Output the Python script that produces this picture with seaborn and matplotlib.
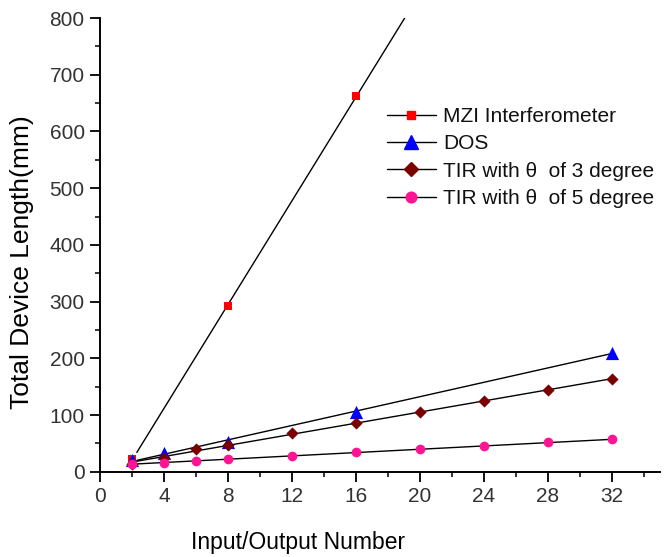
import numpy as np
import pandas as pd
import matplotlib
matplotlib.use("Agg")
import matplotlib.pyplot as plt
from matplotlib.lines import Line2D
from matplotlib.ticker import MultipleLocator
import seaborn as sns

# valores
mzi_x = [2, 8, 16]
mzi_y = [22, 292, 662]

dos_x = [2, 4, 8, 16, 32]
dos_y = [20, 33, 53, 105, 210]

tir3_x = [2, 4, 6, 8, 12, 16, 20, 24, 28, 32]
tir3_y = [14, 25, 40, 47, 68, 86, 106, 125, 144, 163]

tir5_x = [2, 4, 6, 8, 12, 16, 20, 24, 28, 32]
tir5_y = [14, 16, 19, 22, 28, 34, 40, 45, 52, 57]

# nome, x, y, marcador, cor, tamanho (pt), faixa da reta
series = [
    ("MZI Interferometer", mzi_x, mzi_y, "s", "#FF0000", 5.8, (2, 20)),
    ("DOS", dos_x, dos_y, "^", "#0000FF", 9.5, (2, 32)),
    ("TIR with θ  of 3 degree", tir3_x, tir3_y, "D", "#7A0000", 6.2, (2, 32)),
    ("TIR with θ  of 5 degree", tir5_x, tir5_y, "o", "#FF1493", 7.0, (2, 32)),
]

sns.set_theme(style="ticks")
plt.rcParams["font.family"] = ["Liberation Sans", "DejaVu Sans"]

fig = plt.figure(figsize=(6.69, 5.57), dpi=100)
ax = fig.add_axes([0.1495, 0.153, 0.837, 0.8146])

handles = []
for nome, xs, ys, marca, cor, tam, faixa in series:
    df = pd.DataFrame({"x": xs, "y": ys})
    # reta ajustada (regressão linear)
    a, b = np.polyfit(df["x"], df["y"], 1)
    xf = np.linspace(faixa[0] + 0.3, faixa[1], 50)
    sns.lineplot(x=xf, y=a * xf + b, ax=ax, color="black", linewidth=1, zorder=2)
    sns.scatterplot(data=df, x="x", y="y", ax=ax, marker=marca, color=cor,
                    s=tam ** 2, edgecolor=cor, linewidth=0, zorder=3)
    handles.append(Line2D([], [], color="black", linewidth=1, marker=marca,
                          markerfacecolor=cor, markeredgecolor=cor, markersize=tam * 1.1))

ax.set_xlim(0, 35)
ax.set_ylim(0, 800)
ax.xaxis.set_major_locator(MultipleLocator(4))
ax.xaxis.set_minor_locator(MultipleLocator(2))
ax.yaxis.set_major_locator(MultipleLocator(100))
ax.yaxis.set_minor_locator(MultipleLocator(50))
ax.tick_params(which="major", direction="out", length=7, width=1.3, labelsize=15,
               colors="black", labelcolor="#333333", pad=4)
ax.tick_params(which="minor", direction="out", length=3.6, width=1.3)
sns.despine(ax=ax)
for s in ["left", "bottom"]:
    ax.spines[s].set_linewidth(1.4)
    ax.spines[s].set_color("black")

ax.set_xlabel("Input/Output Number", fontsize=16.5, color="black")
ax.set_ylabel("Total Device Length(mm)", fontsize=19, color="black")
ax.xaxis.set_label_coords(0.353, -0.13)
ax.yaxis.set_label_coords(-0.118, 0.462)

leg = ax.legend(handles, [s[0] for s in series], loc="upper left",
                bbox_to_anchor=(0.512, 0.804), frameon=False, fontsize=15,
                handlelength=2.35, handletextpad=0.35, labelspacing=0.4,
                borderaxespad=0, borderpad=0)
for t in leg.get_texts():
    t.set_color("#111111")

fig.savefig("out.png", dpi=100)
